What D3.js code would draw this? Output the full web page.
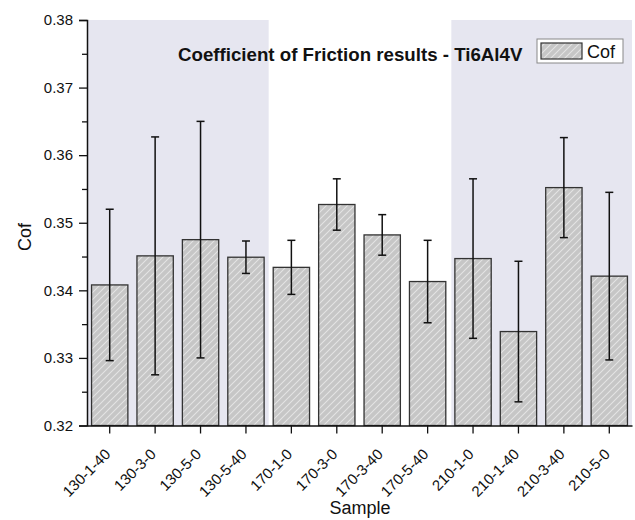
<!DOCTYPE html>
<html>
<head>
<meta charset="utf-8">
<script src="https://cdn.jsdelivr.net/npm/d3@7"></script>
<style>
  body { margin: 0; background: #fff; }
  text { font-family: "Liberation Sans", Arial, sans-serif; }
</style>
</head>
<body>
<svg id="chart" width="635" height="520"></svg>
<script>
const categories = ["130-1-40","130-3-0","130-5-0","130-5-40","170-1-0","170-3-0","170-3-40","170-5-40","210-1-0","210-1-40","210-3-40","210-5-0"];
const cofValues = [0.3408,0.3451,0.3475,0.3449,0.3434,0.3527,0.3482,0.3413,0.3447,0.3339,0.3552,0.3421];
const cofErrors = [0.0112,0.0176,0.0175,0.0024,0.0040,0.0038,0.0030,0.0061,0.0118,0.0104,0.0074,0.0124];
const yTicks = [0.32,0.33,0.34,0.35,0.36,0.37,0.38];
const shadedGroups = [["130-1-40","130-5-40"],["210-1-0","210-5-0"]];
const titleText = "Coefficient of Friction results - Ti6Al4V";
const seriesName = "Cof";

const svg = d3.select("#chart");
const mLeft = 87, mRight = 632, mTop = 20, mBottom = 425.5;

const x = d3.scaleBand().domain(categories).range([mLeft, mRight]).paddingInner(0.2).paddingOuter(0.1);
const y = d3.scaleLinear().domain([0.32, 0.38]).range([mBottom, mTop]);

// pattern
const defs = svg.append("defs");
const pat = defs.append("pattern").attr("id","hatch").attr("patternUnits","userSpaceOnUse")
  .attr("width",7).attr("height",7);
pat.append("rect").attr("width",7).attr("height",7).attr("fill","#c6c6c6");
pat.append("path").attr("d","M0,7 L7,0 M-1,1 L1,-1 M6,8 L8,6")
  .attr("stroke","#e4e4e4").attr("stroke-width",1.1);

// shaded background bands
const step = x.step();
shadedGroups.forEach(g => {
  const i0 = categories.indexOf(g[0]), i1 = categories.indexOf(g[1]);
  const x0 = mLeft + i0 * step;
  const x1 = Math.min(mRight, mLeft + (i1 + 1) * step);
  svg.append("rect").attr("x", x0 + 1).attr("y", mTop).attr("width", x1 - x0 - 1).attr("height", mBottom - mTop)
    .attr("fill","#e6e6f0");
});

// bars
svg.append("g").selectAll("rect").data(categories).join("rect")
  .attr("x", d => x(d))
  .attr("y", (d,i) => y(cofValues[i]))
  .attr("width", x.bandwidth())
  .attr("height", (d,i) => mBottom - y(cofValues[i]))
  .attr("fill","url(#hatch)")
  .attr("stroke","#333")
  .attr("stroke-width",1.3);

// error bars
const eg = svg.append("g").attr("stroke","#111").attr("stroke-width",1.5);
categories.forEach((c,i) => {
  const cx = x(c) + x.bandwidth()/2;
  const yt = y(cofValues[i] + cofErrors[i]);
  const yb = y(cofValues[i] - cofErrors[i]);
  eg.append("line").attr("x1",cx).attr("x2",cx).attr("y1",yt).attr("y2",yb);
  eg.append("line").attr("x1",cx-4).attr("x2",cx+4).attr("y1",yt).attr("y2",yt);
  eg.append("line").attr("x1",cx-4).attr("x2",cx+4).attr("y1",yb).attr("y2",yb);
});

// y axis
const yAxis = svg.append("g").attr("transform",`translate(${mLeft},0)`)
  .call(d3.axisLeft(y).tickValues(yTicks).tickFormat(d3.format(".2f")).tickSize(8).tickPadding(6));
svg.append("g").attr("transform",`translate(${mLeft},0)`)
  .call(d3.axisLeft(y).tickValues(d3.range(0.325, 0.38, 0.01)).tickFormat("").tickSize(5))
  .call(g => g.select(".domain").remove());
yAxis.selectAll("text").attr("font-size",15).attr("fill","#111").attr("font-family","Liberation Sans, Arial, sans-serif");

// x axis
const xAxis = svg.append("g").attr("transform",`translate(0,${mBottom})`)
  .call(d3.axisBottom(x).tickSize(8).tickSizeOuter(0));
xAxis.selectAll("text")
  .attr("font-size",15).attr("fill","#111").attr("font-family","Liberation Sans, Arial, sans-serif")
  .attr("text-anchor","end")
  .attr("x",0).attr("y",0).attr("dy","0.35em")
  .attr("transform","translate(-2,26) rotate(-45)");

svg.selectAll(".domain").attr("stroke","#111").attr("stroke-width",1.5);
svg.selectAll(".tick line").attr("stroke","#111").attr("stroke-width",1.3);

// axis labels
svg.append("text").attr("x", 360).attr("y", 514).attr("text-anchor","middle")
  .attr("font-size",18).attr("fill","#111").text("Sample");
svg.append("text").attr("transform","translate(31,237) rotate(-90)").attr("text-anchor","middle")
  .attr("font-size",18).attr("fill","#111").text("Cof");

// title
svg.append("text").attr("x", 178).attr("y", 61).attr("font-size",18.7).attr("font-weight","bold")
  .attr("fill","#111").text(titleText);

// legend
svg.append("rect").attr("x",537).attr("y",39).attr("width",86).attr("height",24)
  .attr("fill","#fff").attr("stroke","#888").attr("stroke-width",1);
svg.append("rect").attr("x",541).attr("y",43).attr("width",41).attr("height",16)
  .attr("fill","url(#hatch)").attr("stroke","#333").attr("stroke-width",1.2);
svg.append("text").attr("x",587).attr("y",58).attr("font-size",18).attr("fill","#111").text(seriesName);
</script>
</body>
</html>
